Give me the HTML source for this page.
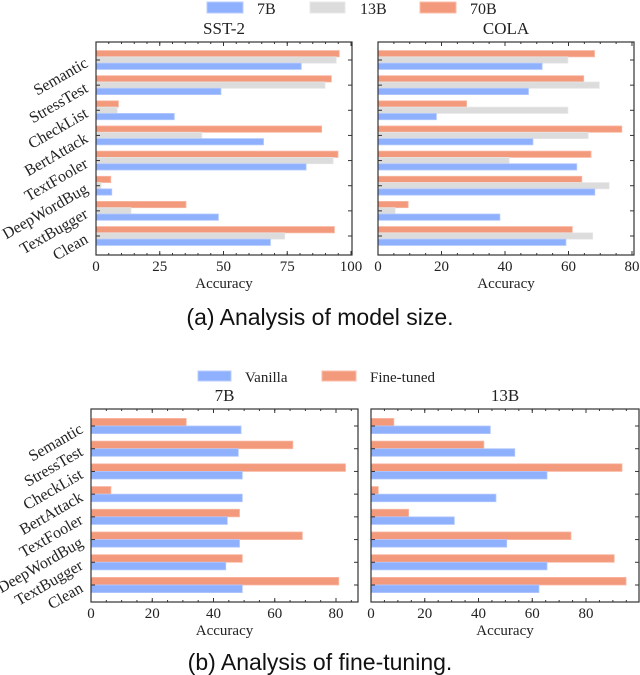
<!DOCTYPE html>
<html><head><meta charset="utf-8">
<style>
html,body{margin:0;padding:0;background:#fff;}
svg{display:block;}
text{font-family:"Liberation Serif",serif;fill:#222;}
.cap{font-family:"Liberation Sans",sans-serif;font-size:23px;fill:#111;}
</style></head>
<body>
<svg id="fig" width="640" height="675" viewBox="0 0 640 675" xmlns="http://www.w3.org/2000/svg">
<g>
  <rect x="207" y="2" width="36" height="11" fill="#8fb0fd" stroke="#b8ccff"/>
  <text x="257" y="14" font-size="16">7B</text>
  <rect x="310" y="2" width="35" height="11" fill="#dcdcdc" stroke="#e8e8e8"/>
  <text x="360" y="14" font-size="16">13B</text>
  <rect x="420" y="2" width="36" height="11" fill="#f49a7c" stroke="#f9bca8"/>
  <text x="470" y="14" font-size="16">70B</text>
</g>
<g>
  <rect x="198" y="371" width="33" height="10" fill="#8fb0fd" stroke="#b8ccff"/>
  <text x="245" y="382" font-size="15">Vanilla</text>
  <rect x="322" y="371" width="34" height="10" fill="#f49a7c" stroke="#f9bca8"/>
  <text x="370" y="382" font-size="15">Fine-tuned</text>
</g>
<text class="cap" x="320" y="325" text-anchor="middle">(a)  Analysis of model size.</text>
<text class="cap" x="320" y="670" text-anchor="middle">(b)  Analysis of fine-tuning.</text>
</svg>
<script>
const categories = ["Semantic","StressTest","CheckList","BertAttack","TextFooler","DeepWordBug","TextBugger","Clean"];
const sst7B  = [80.5,49,30.7,65.7,82.4,6.2,48,68.4];
const sst13B = [94.2,89.8,8.3,41.5,93,2,13.7,74];
const sst70B = [95.4,92.3,8.8,88.5,94.9,5.8,35.3,93.5];
const cola7B  = [51.7,47.4,18.4,48.8,62.6,68.3,38.4,59.2];
const cola13B = [59.8,69.7,59.8,66.2,41.3,72.8,5.4,67.6];
const cola70B = [68.2,64.8,27.9,76.8,67.1,64.2,9.5,61.2];
const ft7BVanilla = [49,48.1,49.4,49.4,44.5,48.5,44,49.4];
const ft7BFine    = [31.1,65.9,83.1,6.5,48.5,69,49.4,80.9];
const ft13BVanilla = [44.4,53.5,65.5,46.5,31,50.5,65.5,62.5];
const ft13BFine    = [8.5,42,93.4,2.7,14,74.4,90.5,94.9];
const ticksSST = [0,25,50,75,100];
const ticks80 = [0,20,40,60,80];
const ticksFT = [0,20,40,60,80];

const NS="http://www.w3.org/2000/svg";
const svg=document.getElementById('fig');
function mk(tag,attrs,parent){const e=document.createElementNS(NS,tag);for(const k in attrs)e.setAttribute(k,attrs[k]);(parent||svg).appendChild(e);return e;}

function panel(o){
  const g=mk('g',{});
  
  
  const xs=v=>o.x0+(v-0)/(o.xmaxTick)*(o.xTickPx-o.x0);
  const n=categories.length;
  const pitch=(o.cLast-o.cFirst)/(n-1);
  const ys=i=>o.cFirst+i*pitch;
  o.series.forEach((s,si)=>{
    s.values.forEach((v,i)=>{
      const yc=ys(i)+(si-(o.series.length-1)/2)*o.bh;
      const r=mk('rect',{x:xs(0),y:yc-o.bh/2,width:Math.max(0,xs(v)-xs(0)),height:o.bh,fill:s.color,stroke:s.edge,'stroke-width':0.8},g);
      
      
    });
  });
  const f=mk('rect',{x:o.x0,y:o.y0,width:o.x1-o.x0,height:o.y1-o.y0,fill:'none',stroke:'#333','stroke-width':1.2},g);
  
  
  o.ticks.forEach(t=>{
    const x=xs(t);
    mk('line',{x1:x,x2:x,y1:o.y1,y2:o.y1-4,stroke:'#333'},g);
    mk('line',{x1:x,x2:x,y1:o.y0,y2:o.y0+4,stroke:'#333'},g);
    const tl=mk('text',{x:x,y:o.y1+16,'font-size':15,'text-anchor':'middle'},g);
    tl.textContent=t;
    
    
  });
  const step=(o.ticks[1]-o.ticks[0])/o.minor;
  for(let v=0;xs(v)<o.x1;v+=step){const x=xs(v);
    mk('line',{x1:x,x2:x,y1:o.y1,y2:o.y1-2,stroke:'#333'},g);
    mk('line',{x1:x,x2:x,y1:o.y0,y2:o.y0+2,stroke:'#333'},g);}
  categories.forEach((c,i)=>{
    const y=ys(i);
    mk('line',{x1:o.x0,x2:o.x0+4,y1:y,y2:y,stroke:'#333'},g);
    mk('line',{x1:o.x1,x2:o.x1-4,y1:y,y2:y,stroke:'#333'},g);
    if(o.ylabels){
      const t=mk('text',{x:0,y:0,'font-size':16,'text-anchor':'end',transform:`translate(${o.x0-7},${y+6}) rotate(-30)`},g);
      t.textContent=c;
      
      
    }
  });
  const ti=mk('text',{x:(o.x0+o.x1)/2,y:o.y0-8,'font-size':17,'text-anchor':'middle'},g);
  ti.textContent=o.title;
  
  
  const xl=mk('text',{x:(o.x0+o.x1)/2,y:o.y1+33,'font-size':15,'text-anchor':'middle'},g);
  xl.textContent='Accuracy';
  
  
}
const B={color:'#8fb0fd',edge:'#b3c9ff'},G={color:'#dcdcdc',edge:'#e6e6e6'},O={color:'#f49a7c',edge:'#f8b8a3'};
panel({name:'panel-sst2',title:'SST-2',x0:96,x1:352,xTickPx:351,xmaxTick:100,y0:42,y1:255,cFirst:60,cLast:236,bh:6.3,ticks:ticksSST,minor:5,ylabels:true,
  series:[Object.assign({key:'70b',values:sst70B},O),Object.assign({key:'13b',values:sst13B},G),Object.assign({key:'7b',values:sst7B},B)]});
panel({name:'panel-cola',title:'COLA',x0:378,x1:634,xTickPx:632,xmaxTick:80,y0:42,y1:255,cFirst:60,cLast:236,bh:6.3,ticks:ticks80,minor:4,ylabels:false,
  series:[Object.assign({key:'70b',values:cola70B},O),Object.assign({key:'13b',values:cola13B},G),Object.assign({key:'7b',values:cola7B},B)]});
panel({name:'panel-7b',title:'7B',x0:91,x1:358,xTickPx:336,xmaxTick:80,y0:409,y1:602,cFirst:426,cLast:585,bh:7.6,ticks:ticksFT,minor:4,ylabels:true,
  series:[Object.assign({key:'fine-tuned',values:ft7BFine},O),Object.assign({key:'vanilla',values:ft7BVanilla},B)]});
panel({name:'panel-13b',title:'13B',x0:371,x1:639,xTickPx:586,xmaxTick:80,y0:409,y1:602,cFirst:426,cLast:585,bh:7.6,ticks:ticksFT,minor:4,ylabels:false,
  series:[Object.assign({key:'fine-tuned',values:ft13BFine},O),Object.assign({key:'vanilla',values:ft13BVanilla},B)]});
</script>
</body></html>
